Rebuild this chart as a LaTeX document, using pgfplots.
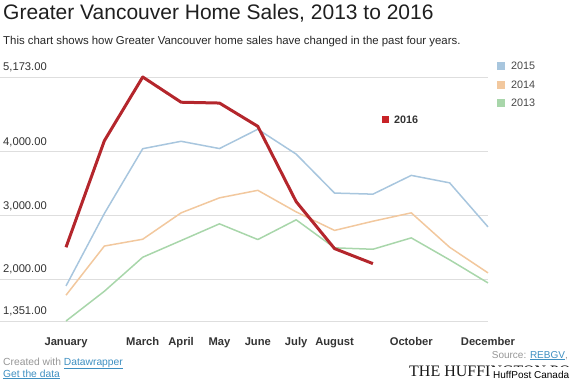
\documentclass[border=0pt]{standalone}
\usepackage{pgfplots}
\pgfplotsset{compat=1.18}
\usepackage{fontspec}
\setmainfont{Liberation Sans}
\newfontfamily\seriffont{Liberation Serif}
\definecolor{c16}{RGB}{180,38,44}
\definecolor{c16l}{RGB}{200,35,40}
\definecolor{c15}{RGB}{168,198,222}
\definecolor{c14}{RGB}{242,200,158}
\definecolor{c13}{RGB}{168,214,170}
\definecolor{gridc}{RGB}{222,222,222}
\definecolor{txt}{RGB}{51,51,51}
\definecolor{lnk}{RGB}{62,143,193}
\definecolor{foot}{RGB}{150,150,150}

\pgfplotstableread{
x y
0 2506
1 4175
2 5173
3 4778
4 4765
5 4400
6 3220
7 2485
8 2250
}\tsixteen
\pgfplotstableread{
x y
0 1900
1 3035
2 4050
3 4166
4 4052
5 4355
6 3965
7 3355
8 3338
9 3632
10 3515
11 2825
}\tfifteen
\pgfplotstableread{
x y
0 1755
1 2525
2 2632
3 3045
4 3280
5 3398
6 3060
7 2770
8 2914
9 3045
10 2506
11 2105
}\tfourteen
\pgfplotstableread{
x y
0 1351
1 1817
2 2350
3 2611
4 2873
5 2627
6 2936
7 2497
8 2475
9 2653
10 2309
11 1948
}\tthirteen

\begin{document}
\begin{tikzpicture}[x=1pt,y=1pt]
\useasboundingbox (0,0) rectangle (570,-381);
\clip (0,0) rectangle (570,-381);
\node[anchor=base west, inner sep=0pt, font=\fontsize{21}{21}\selectfont, text=black!88] at (3,-19) {Greater Vancouver Home Sales, 2013 to 2016};
\node[anchor=base west, inner sep=0pt, font=\fontsize{11.4}{11.4}\selectfont, text=black!85] at (3,-44) {This chart shows how Greater Vancouver home sales have changed in the past four years.};

\begin{axis}[
  at={(0pt,-321pt)}, anchor=south west,
  scale only axis, width=488pt, height=244pt,
  xmin=-1.7205, xmax=11, ymin=1351, ymax=5173,
  clip=false,
  axis line style={draw=none},
  major tick length=0pt,
  tick style={draw=none},
  ymajorgrids, grid style={draw=gridc, line width=0.9pt},
  ytick={1351,2000,3000,4000,5173},
  yticklabel style={anchor=south west, inner sep=0pt, xshift=3pt, yshift=5pt,
    font=\fontsize{11.2}{11.2}\selectfont, text=txt,
    /pgf/number format/.cd, fixed, fixed zerofill, precision=2, 1000 sep={,}, assume math mode=true},
  scaled y ticks=false,
  xtick={0,2,3,4,5,6,7,9,11},
  xticklabels={January,March,April,May,June,July,August,October,December},
  xticklabel style={anchor=base, inner sep=0pt, yshift=-24pt,
    font=\bfseries\fontsize{11.2}{11.2}\selectfont, text=txt},
]
\addplot[c13, line width=1.5pt, line join=round] table[x=x,y=y]{\tthirteen};
\addplot[c14, line width=1.5pt, line join=round] table[x=x,y=y]{\tfourteen};
\addplot[c15, line width=1.5pt, line join=round] table[x=x,y=y]{\tfifteen};
\addplot[c16, line width=3pt, line join=round] table[x=x,y=y]{\tsixteen};
\end{axis}

% legend
\fill[c15] (497,-62) rectangle (505,-70);
\node[anchor=west, inner sep=0pt, font=\fontsize{10.8}{10.8}\selectfont, text=txt!90] at (511,-66) {2015};
\fill[c14] (497,-81) rectangle (505,-89);
\node[anchor=west, inner sep=0pt, font=\fontsize{10.8}{10.8}\selectfont, text=txt!90] at (511,-85) {2014};
\fill[c13] (497,-99) rectangle (505,-107);
\node[anchor=west, inner sep=0pt, font=\fontsize{10.8}{10.8}\selectfont, text=txt!90] at (511,-103) {2013};
\fill[c16l] (382,-116) rectangle (389,-123);
\node[anchor=west, inner sep=0pt, font=\bfseries\fontsize{10.8}{10.8}\selectfont, text=txt] at (394,-120) {2016};

% footer
\node[anchor=base west, inner sep=0pt, font=\fontsize{10.3}{10.3}\selectfont, text=foot] at (3,-365) {Created with \textcolor{lnk}{\underline{Datawrapper}}};
\node[anchor=base west, inner sep=0pt, font=\fontsize{10.3}{10.3}\selectfont, text=lnk] at (3,-377) {\underline{Get the data}};
\node[anchor=base east, inner sep=0pt, font=\fontsize{10}{10}\selectfont, text=foot] at (568,-358) {Source: \textcolor{lnk}{\underline{REBGV}},};
\node[anchor=base west, inner sep=0pt, font=\seriffont\fontsize{16}{16}\selectfont, text=black!90] at (409,-376) {THE HUFFINGTON POST};
\fill[white] (490,-367) rectangle (570,-381);
\node[anchor=base west, inner sep=0pt, font=\fontsize{10}{10}\selectfont, text=black] at (493,-378) {HuffPost Canada};
\end{tikzpicture}
\end{document}
